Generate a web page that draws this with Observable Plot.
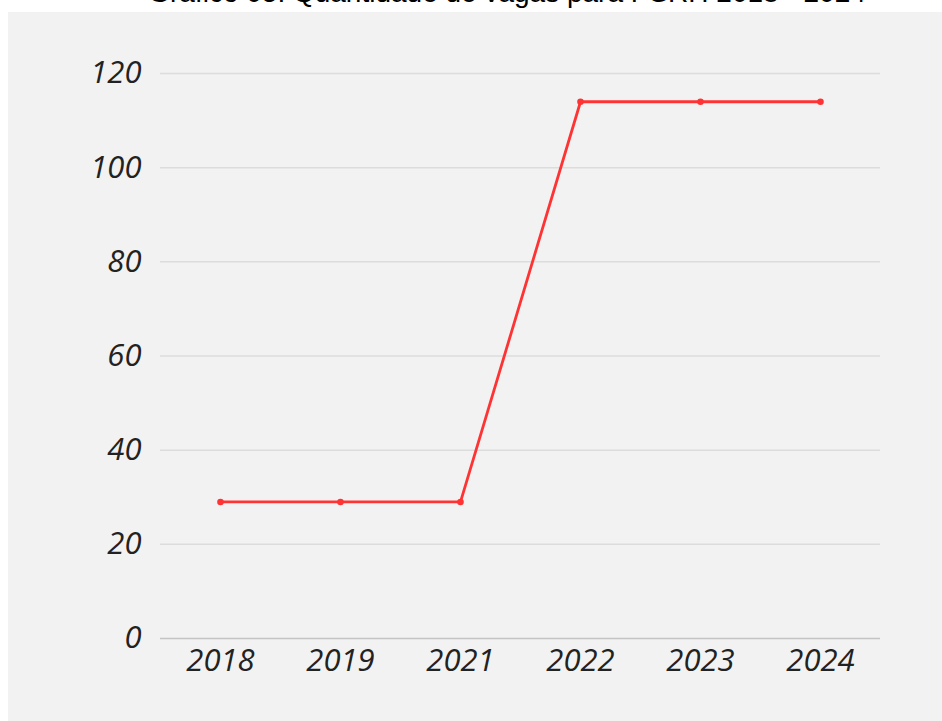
<!DOCTYPE html>
<html>
<head>
<meta charset="utf-8">
<script src="https://cdn.jsdelivr.net/npm/d3@7"></script>
<script src="https://cdn.jsdelivr.net/npm/@observablehq/plot@0.6"></script>
<style>
  html, body { margin: 0; padding: 0; background: #ffffff; width: 942px; height: 721px; overflow: hidden; }
  #panel { position: absolute; left: 8px; top: 12px; width: 934px; height: 709px; background: #f2f2f2; }
  #title { position: absolute; left: 0; width: 1014px; top: -23px; text-align: center;
           font-family: "Liberation Sans", Arial, sans-serif; font-size: 28px; color: #000; white-space: nowrap; }
  #chart { position: absolute; left: 0; top: 0; }
</style>
</head>
<body>
<div id="panel"></div>
<div id="title">Gráfico 05: Quantidade de vagas para PSRH 2018 - 2024</div>
<div id="chart"></div>
<script>
const years = ["2018", "2019", "2021", "2022", "2023", "2024"];
const vagas = [29, 29, 29, 114, 114, 114];
const yTicks = [0, 20, 40, 60, 80, 100, 120];

const data = years.map((y, i) => ({year: y, value: vagas[i]}));

const chart = Plot.plot({
  width: 942,
  height: 721,
  marginLeft: 160,
  marginRight: 62,
  marginTop: 73,
  marginBottom: 83,
  style: {background: "transparent", fontFamily: "'Open Sans', sans-serif", fontSize: "31px", fontStyle: "italic", color: "#222"},
  x: {type: "point", domain: years, padding: 0.5, label: null},
  y: {domain: [0, 120], ticks: yTicks, label: null},
  marks: [
    Plot.gridY(yTicks.filter(d => d > 0), {stroke: "#dcdcdc", strokeOpacity: 1, strokeWidth: 1.5}),
    Plot.ruleY([0], {stroke: "#c4c4c4", strokeWidth: 1.5}),
    Plot.axisY({ticks: yTicks, tickSize: 0, tickPadding: 19, label: null, fill: "#222", fontSize: 31}),
    Plot.axisX({tickSize: 0, tickPadding: 10, label: null, fill: "#222", fontSize: 31}),
    Plot.line(data, {x: "year", y: "value", stroke: "#ff3333", strokeWidth: 2.8}),
    Plot.dot(data, {x: "year", y: "value", fill: "#ff3333", r: 3.3})
  ]
});
document.getElementById("chart").appendChild(chart);
</script>
</body>
</html>
